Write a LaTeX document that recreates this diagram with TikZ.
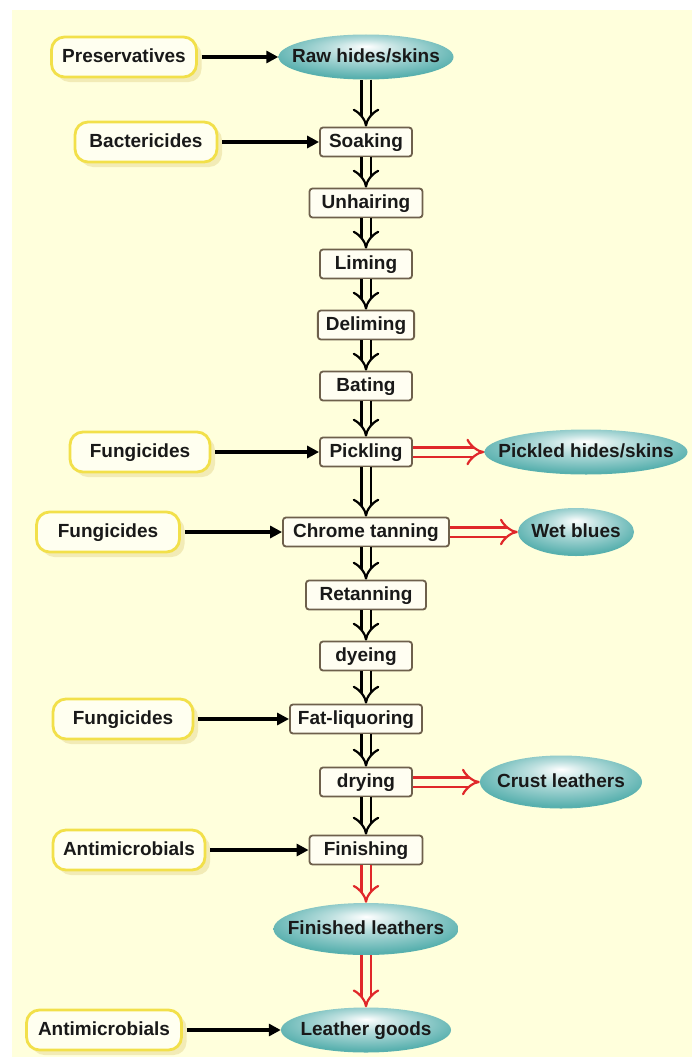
\documentclass[tikz,border=0pt]{standalone}
\usepackage{fontspec}
\setsansfont{Liberation Sans}
\usetikzlibrary{arrows.meta, positioning, shapes.geometric, shadows}

\definecolor{bgcream}{HTML}{FFFFDC}
\definecolor{agentc}{HTML}{F2E04A}
\definecolor{agentfill}{HTML}{FFFFF0}
\definecolor{shadowc}{HTML}{F2EBB6}
\definecolor{procc}{HTML}{6E604C}
\definecolor{procfill}{HTML}{FFFEF2}
\definecolor{tealc}{HTML}{58B0AE}
\definecolor{redc}{HTML}{E0282A}

\pgfdeclareradialshading{ovalshade}{\pgfpoint{0bp}{12bp}}{color(0bp)=(white); color(10bp)=(tealc!40); color(28bp)=(tealc); color(50bp)=(tealc)}

\begin{document}
\begin{tikzpicture}[x=1pt, y=-1pt,
    font=\sffamily\bfseries\fontsize{19}{22}\selectfont,
    every node/.style={text height=14pt, text depth=3.5pt, text=black!90},
    proc/.style={draw=procc, line width=1.8pt, fill=procfill, rounded corners=3pt,
        minimum height=29pt, minimum width=92pt, inner xsep=8pt, inner ysep=2pt},
    agent/.style={draw=agentc, line width=2.8pt, fill=agentfill, rounded corners=13pt,
        minimum height=40pt, inner xsep=6pt,
        drop shadow={shadow xshift=5pt, shadow yshift=-5pt, fill=shadowc, opacity=1}},
    oval/.style={ellipse, shading=ovalshade, inner xsep=-50pt, inner ysep=0pt},
    feed/.style={line width=3.4pt, -{Triangle[length=12pt, width=12pt]}, shorten <=4pt},
    dbl/.style={draw=black, line width=2.2pt, double=bgcream, double distance=7pt, -{Implies}},
    rdbl/.style={dbl, draw=redc}]

    \useasboundingbox (0,0) rectangle (692,1057);
    \fill[bgcream] (12,10) rectangle (692,1057);

    % main line
    \node[oval, minimum width=175pt, minimum height=45pt] (raw) at (366,57) {Raw hides/skins};
    \node[proc] (soak) at (366,142) {Soaking};
    \node[proc, minimum width=113pt] (unhair) at (366,203) {Unhairing};
    \node[proc] (lime) at (366,264) {Liming};
    \node[proc, minimum width=96pt] (delime) at (366,325) {Deliming};
    \node[proc] (bate) at (366,386) {Bating};
    \node[proc] (pickle) at (366,452) {Pickling};
    \node[proc, minimum width=166pt] (chrome) at (366,532) {Chrome tanning};
    \node[proc, minimum width=120pt] (retan) at (366,595) {Retanning};
    \node[proc] (dye) at (366,656) {dyeing};
    \node[proc, minimum width=116pt] (fat) at (356,719) {Fat-liquoring};
    \node[proc] (dry) at (366,782) {drying};
    \node[proc, minimum width=113pt] (finish) at (366,850) {Finishing};
    \node[oval, minimum width=185pt, minimum height=52pt] (finished) at (366,929) {Finished leathers};
    \node[oval, minimum width=170pt, minimum height=45pt] (goods) at (366,1030) {Leather goods};

    % products
    \node[oval, minimum width=203pt, minimum height=45pt] (pickled) at (586,452) {Pickled hides/skins};
    \node[oval, minimum width=116pt, minimum height=48pt] (wet) at (576,532) {Wet blues};
    \node[oval, minimum width=162pt, minimum height=53pt] (crust) at (561,782) {Crust leathers};

    % additives
    \node[agent, minimum width=145pt] (pres) at (124,57) {Preservatives};
    \node[agent, minimum width=142pt] (bact) at (146,142) {Bactericides};
    \node[agent, minimum width=140pt] (fung1) at (140,452) {Fungicides};
    \node[agent, minimum width=143pt] (fung2) at (108,532) {Fungicides};
    \node[agent, minimum width=140pt] (fung3) at (123,719) {Fungicides};
    \node[agent, minimum width=152pt] (anti1) at (129,850) {Antimicrobials};
    \node[agent, minimum width=155pt] (anti2) at (104,1030) {Antimicrobials};

    \draw[feed] (pres) -- (raw);
    \draw[feed] (bact) -- (soak);
    \draw[feed] (fung1) -- (pickle);
    \draw[feed] (fung2) -- (chrome);
    \draw[feed] (fung3) -- (fat);
    \draw[feed] (anti1) -- (finish);
    \draw[feed] (anti2) -- (goods);

    \draw[dbl] (raw) -- (soak);
    \draw[dbl] (soak) -- (unhair);
    \draw[dbl] (unhair) -- (lime);
    \draw[dbl] (lime) -- (delime);
    \draw[dbl] (delime) -- (bate);
    \draw[dbl] (bate) -- (pickle);
    \draw[dbl] (pickle) -- (chrome);
    \draw[dbl] (chrome) -- (retan);
    \draw[dbl] (retan) -- (dye);
    \draw[dbl] (dye.south) -- (dye.south |- fat.north);
    \draw[dbl] (fat.south -| dry.north) -- (dry.north);
    \draw[dbl] (dry) -- (finish);

    \draw[rdbl] (pickle) -- (pickled);
    \draw[rdbl] (chrome) -- (wet);
    \draw[rdbl] (dry) -- (crust);
    \draw[rdbl] (finish) -- (finished);
    \draw[rdbl] (finished) -- (goods);
\end{tikzpicture}
\end{document}
